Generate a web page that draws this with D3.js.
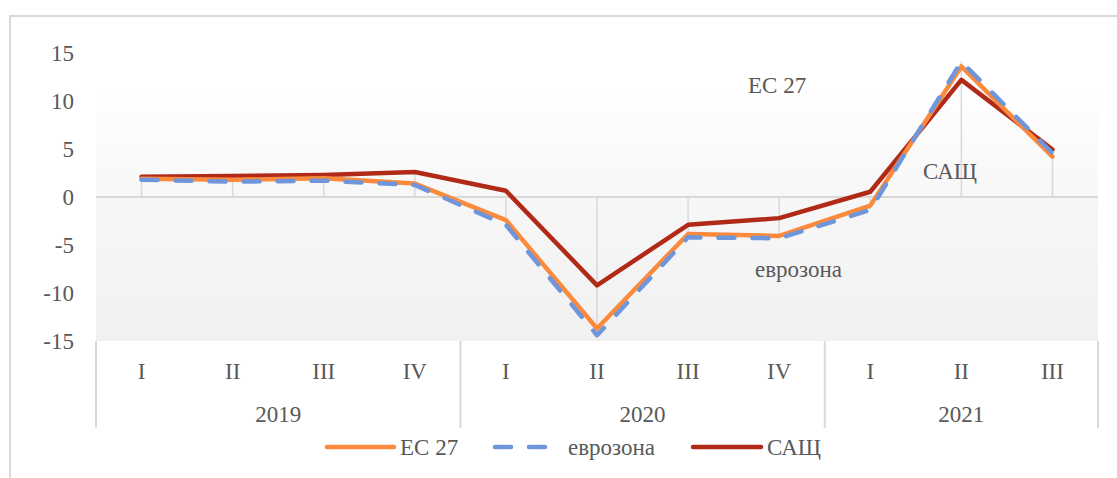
<!DOCTYPE html>
<html lang="en">
<head>
<meta charset="utf-8">
<title>ЕС 27, еврозона, САЩ</title>
<script type="text/javascript" src="https://d3js.org/d3.v7.min.js"></script>
<style>
  body { margin: 0; background: #fff; }
  text { font-family: "Liberation Serif", "Times New Roman", serif; fill: #595959; }
</style>
</head>
<body>
<div id="chart"></div>
<script type="text/javascript">

// data
var quarters = ["I", "II", "III", "IV", "I", "II", "III", "IV", "I", "II", "III"];
var years    = ["2019", "2019", "2019", "2019", "2020", "2020", "2020", "2020", "2021", "2021", "2021"];
var eu27     = [1.9, 1.8, 1.95, 1.4, -2.4, -13.7, -3.85, -4.05, -0.9, 13.6, 4.2];
var eurozone = [1.8, 1.6, 1.7, 1.25, -2.9, -14.4, -4.2, -4.3, -1.35, 14.1, 4.55];
var usa      = [2.1, 2.2, 2.3, 2.6, 0.65, -9.2, -2.9, -2.2, 0.55, 12.2, 4.95];
var yTicks   = [-15, -10, -5, 0, 5, 10, 15];

var w = 1117, h = 478;
var fontSize = 23;

var svg = d3.select("#chart").append("svg")
  .attr("width", w).attr("height", h);

// chart frame (cut on right/bottom like the original)
svg.append("rect")
  .attr("x", 10).attr("y", 16)
  .attr("width", 1200).attr("height", 600)
  .attr("fill", "#fff")
  .attr("stroke", "#d9d9d9").attr("stroke-width", 2);

var plotLeft = 96, plotRight = 1098, plotTop = 53, plotBottom = 341;

var x = d3.scaleBand()
  .domain(d3.range(quarters.length))
  .range([plotLeft, plotRight])
  .padding(0);

var y = d3.scaleLinear()
  .domain([-15, 15])
  .range([plotBottom, plotTop]);

var cx = function(i) { return x(i) + x.bandwidth() / 2; };

// plot background gradient
var defs = svg.append("defs");
var grad = defs.append("linearGradient")
  .attr("id", "plotbg").attr("x1", 0).attr("y1", 0).attr("x2", 0).attr("y2", 1);
grad.append("stop").attr("offset", "0%").attr("stop-color", "#ffffff");
grad.append("stop").attr("offset", "12%").attr("stop-color", "#ffffff");
grad.append("stop").attr("offset", "50%").attr("stop-color", "#f7f7f7");
grad.append("stop").attr("offset", "100%").attr("stop-color", "#f1f1f1");

svg.append("rect")
  .attr("x", plotLeft).attr("y", plotTop)
  .attr("width", plotRight - plotLeft).attr("height", plotBottom - plotTop)
  .attr("fill", "url(#plotbg)");

// zero line
svg.append("line")
  .attr("x1", plotLeft).attr("x2", plotRight)
  .attr("y1", y(0)).attr("y2", y(0))
  .attr("stroke", "#d9d9d9").attr("stroke-width", 2);

// drop lines from the axis to the furthest point
var series = [eu27, eurozone, usa];
svg.append("g").selectAll("line")
  .data(quarters.map(function(q, i) {
    var vals = series.map(function(s) { return s[i]; });
    var ext = vals.reduce(function(a, b) { return Math.abs(b) > Math.abs(a) ? b : a; });
    return { i: i, v: ext };
  }))
  .enter().append("line")
  .attr("x1", function(d) { return cx(d.i); })
  .attr("x2", function(d) { return cx(d.i); })
  .attr("y1", y(0))
  .attr("y2", function(d) { return y(d.v); })
  .attr("stroke", "#d9d9d9").attr("stroke-width", 1.5);

// y axis labels
svg.append("g").selectAll("text")
  .data(yTicks)
  .enter().append("text")
  .attr("x", 74)
  .attr("y", function(d) { return y(d); })
  .attr("dy", "0.35em")
  .attr("text-anchor", "end")
  .style("font-size", fontSize + "px")
  .text(function(d) { return d; });

// category axis: quarters
svg.append("g").selectAll("text")
  .data(quarters)
  .enter().append("text")
  .attr("x", function(d, i) { return cx(i); })
  .attr("y", 371)
  .attr("dy", "0.35em")
  .attr("text-anchor", "middle")
  .style("font-size", fontSize + "px")
  .text(function(d) { return d; });

// category axis: years
var groups = d3.groups(d3.range(years.length), function(i) { return years[i]; });
var seps = [plotLeft];
groups.forEach(function(g) {
  var idx = g[1];
  var x0 = x(idx[0]), x1 = x(idx[idx.length - 1]) + x.bandwidth();
  seps.push(x1);
  svg.append("text")
    .attr("x", (x0 + x1) / 2)
    .attr("y", 414)
    .attr("dy", "0.35em")
    .attr("text-anchor", "middle")
    .style("font-size", fontSize + "px")
    .text(g[0]);
});
svg.append("g").selectAll("line")
  .data(seps)
  .enter().append("line")
  .attr("x1", function(d) { return d; }).attr("x2", function(d) { return d; })
  .attr("y1", plotBottom).attr("y2", 428)
  .attr("stroke", "#d9d9d9").attr("stroke-width", 2);

// lines
var line = d3.line()
  .x(function(d, i) { return cx(i); })
  .y(function(d) { return y(d); });

var styles = [
  { data: usa, color: "#b12a17", dash: null, name: "САЩ" },
  { data: eu27, color: "#fb8a3c", dash: null, name: "ЕС 27" },
  { data: eurozone, color: "#6f96da", dash: "16,18", name: "еврозона" }
];

styles.forEach(function(s) {
  svg.append("path")
    .datum(s.data)
    .attr("d", line)
    .attr("fill", "none")
    .attr("stroke", s.color)
    .attr("stroke-width", 4.5)
    .attr("stroke-linejoin", "round")
    .attr("stroke-linecap", "round")
    .attr("stroke-dasharray", s.dash);
});

// in-plot labels
var notes = [
  { text: "ЕС 27", x: 748, y: 85 },
  { text: "САЩ", x: 923, y: 171 },
  { text: "еврозона", x: 755, y: 269 }
];
svg.append("g").selectAll("text")
  .data(notes)
  .enter().append("text")
  .attr("x", function(d) { return d.x; })
  .attr("y", function(d) { return d.y; })
  .attr("dy", "0.35em")
  .style("font-size", fontSize + "px")
  .text(function(d) { return d.text; });

// legend
var legend = [
  { name: "ЕС 27", color: "#fb8a3c", dash: null, x1: 327, x2: 394, tx: 400 },
  { name: "еврозона", color: "#6f96da", dash: "16,18", x1: 495, x2: 547, tx: 568 },
  { name: "САЩ", color: "#b12a17", dash: null, x1: 693, x2: 761, tx: 767 }
];
var lg = svg.append("g").selectAll("g")
  .data(legend)
  .enter().append("g");
lg.append("line")
  .attr("x1", function(d) { return d.x1; }).attr("x2", function(d) { return d.x2; })
  .attr("y1", 447).attr("y2", 447)
  .attr("stroke", function(d) { return d.color; })
  .attr("stroke-width", 4.5)
  .attr("stroke-linecap", "round")
  .attr("stroke-dasharray", function(d) { return d.dash; });
lg.append("text")
  .attr("x", function(d) { return d.tx; })
  .attr("y", 447)
  .attr("dy", "0.35em")
  .style("font-size", fontSize + "px")
  .text(function(d) { return d.name; });

</script>
</body>
</html>
